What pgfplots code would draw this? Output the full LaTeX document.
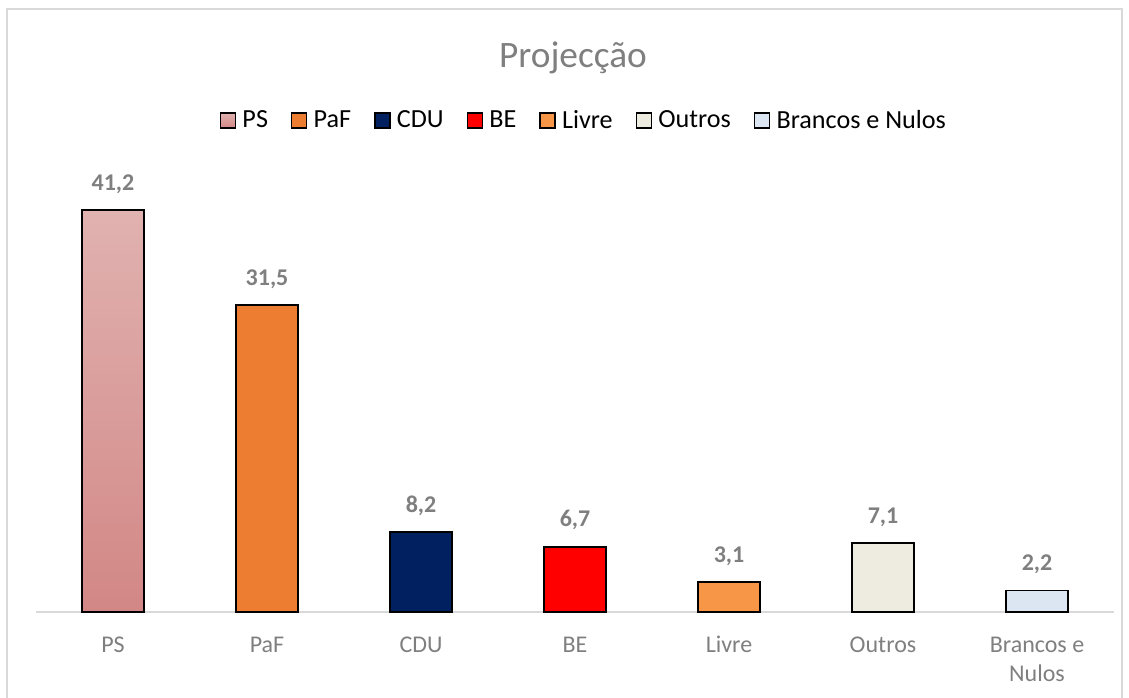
\documentclass[border=0pt]{standalone}
\usepackage{fontspec}
\setmainfont{Carlito}
\usepackage{pgfplots}
\pgfplotsset{compat=1.18}
\definecolor{psTop}{HTML}{E0B2B0}
\definecolor{psBot}{HTML}{D28785}
\definecolor{paf}{HTML}{ED7D31}
\definecolor{cdu}{HTML}{002060}
\definecolor{be}{HTML}{FF0000}
\definecolor{livre}{HTML}{F79646}
\definecolor{outros}{HTML}{EEECE1}
\definecolor{brancos}{HTML}{DCE6F2}
\definecolor{txtgray}{HTML}{7F7F7F}
\definecolor{linegray}{HTML}{D9D9D9}

\begin{document}
\begin{tikzpicture}[x=0.375pt,y=0.375pt]
  % page = 1129 x 697 px
  \path[use as bounding box] (0,0) rectangle (1129,697);
  \begin{scope}
    \clip (0,0) rectangle (1129,697);
    \draw[linegray, line width=0.75pt] (7,-20) rectangle (1122,688);
  \end{scope}
  \node[text=txtgray, font=\fontsize{14}{16}\selectfont] at (573,639) {Projecção};
  \begin{axis}[
    at={(13.5pt,31.875pt)}, anchor=south west,
    scale only axis,
    width=404.25pt, height=164.6pt,
    ybar, bar shift=0pt, bar width=23.25pt,
    xmin=-0.5, xmax=6.5, ymin=0, ymax=45,
    axis y line=none,
    axis x line*=bottom,
    x axis line style={linegray, line width=0.75pt},
    xtick={0,...,6},
    xticklabels={\strut PS,\strut PaF,\strut CDU,\strut BE,\strut Livre,\strut Outros,{\strut Brancos e\\\strut Nulos}},
    major tick length=0pt,
    x tick label style={font=\fontsize{9}{11}\selectfont, text=txtgray, align=center, yshift=-3.8pt},
    nodes near coords,
    every node near coord/.append style={font=\fontsize{9}{10}\selectfont\bfseries, text=txtgray, yshift=2.5pt},
    /pgf/number format/.cd, use comma, fixed, fixed zerofill, precision=1, assume math mode=true,
    /pgfplots/.cd,
    every axis plot/.append style={draw=black, line width=0.7pt},
    legend columns=7,
    legend style={draw=none, at={(0.508,1.118)}, anchor=center,
      font=\fontsize{9.8}{12}\selectfont, column sep=0pt, nodes={inner xsep=0.6pt}},
    /tikz/every odd column/.append style={column sep=1.8pt},
    /tikz/every even column/.append style={column sep=8pt},
    legend image code/.code={\draw[#1, line width=0.55pt] (0pt,-2.5pt) rectangle (5.6pt,3.1pt);},
  ]
  \addplot[top color=psTop, bottom color=psBot] coordinates {(0,41.2)};
  \addplot[fill=paf] coordinates {(1,31.5)};
  \addplot[fill=cdu] coordinates {(2,8.2)};
  \addplot[fill=be] coordinates {(3,6.7)};
  \addplot[fill=livre] coordinates {(4,3.1)};
  \addplot[fill=outros] coordinates {(5,7.1)};
  \addplot[fill=brancos] coordinates {(6,2.2)};
  \legend{PS,PaF,CDU,BE,Livre,Outros,Brancos e Nulos}
  \end{axis}
\end{tikzpicture}
\end{document}
